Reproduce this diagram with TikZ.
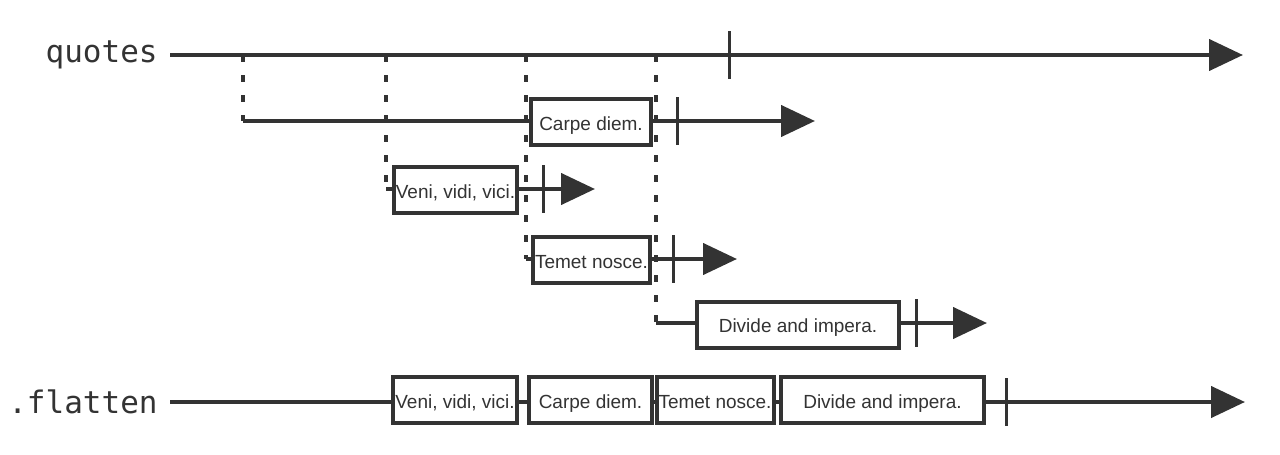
\documentclass[tikz,border=0pt]{standalone}
\usepackage{fontspec}
\setmainfont{Liberation Sans}
\setmonofont{DejaVu Sans Mono}
\usepackage{xcolor}
\usepackage{tikz}
\usetikzlibrary{arrows.meta,positioning}
\definecolor{ink}{HTML}{333333}

\begin{document}
\begin{tikzpicture}[
    x=0.5pt, y=-0.5pt,
    stream/.style={draw=ink, line width=2.2pt, -{Triangle[length=17pt, width=15.5pt]}},
    branch/.style={draw=ink, line width=2pt, dash pattern=on 3.5pt off 6.5pt},
    tickmark/.style={draw=ink, line width=1.5pt},
    boxitem/.style={rectangle, draw=ink, line width=2pt, fill=white, text=ink, minimum height=23pt, inner xsep=1pt, inner ysep=0pt, text height=8pt, text depth=0pt, font=\fontsize{9.5}{11}\selectfont},
    streamname/.style={text=ink, font=\ttfamily\fontsize{15.5}{18}\selectfont, anchor=east, inner sep=0pt}
]
    \useasboundingbox (0,0) rectangle (1280,455);

    \node [streamname] (quotesLbl) at (158,55) {quotes};
    \node [streamname] (flattenLbl) at (158,402) {.flatten};

    \coordinate (qStart) at (170,55);   \coordinate (qEnd) at (1243,55);
    \coordinate (fStart) at (170,402);  \coordinate (fEnd) at (1245,402);
    \coordinate (aTop) at (243,55);     \coordinate (aCorner) at (243,121); \coordinate (aEnd) at (815,121);
    \coordinate (bTop) at (386,55);     \coordinate (bCorner) at (386,189); \coordinate (bEnd) at (595,189);
    \coordinate (cTop) at (526,55);     \coordinate (cCorner) at (526,259); \coordinate (cEnd) at (737,259);
    \coordinate (dTop) at (656,55);     \coordinate (dCorner) at (656,323); \coordinate (dEnd) at (987,323);

    \draw [branch] (aTop) -- (aCorner);
    \draw [branch] (bTop) -- (bCorner);
    \draw [branch] (cTop) -- (cCorner);
    \draw [branch] (dTop) -- (dCorner);

    \draw [stream] (qStart) -- (qEnd);
    \draw [stream] (aCorner) -- (aEnd);
    \draw [stream] (bCorner) -- (bEnd);
    \draw [stream] (cCorner) -- (cEnd);
    \draw [stream] (dCorner) -- (dEnd);
    \draw [stream] (fStart) -- (fEnd);

    \node [boxitem, minimum width=60pt] (carpeA) at (591,122) {Carpe diem.};
    \node [boxitem, minimum width=61.5pt] (veniB) at (455.5,190) {Veni, vidi, vici.};
    \node [boxitem, minimum width=58.5pt] (temetC) at (591.5,260) {Temet nosce.};
    \node [boxitem, minimum width=101pt] (divideD) at (798,324.5) {Divide and impera.};

    \node [boxitem, minimum width=62pt] (veniF) at (455,400) {Veni, vidi, vici.};
    \node [boxitem, minimum width=61.5pt] (carpeF) at (590.5,400) {Carpe diem.};
    \node [boxitem, minimum width=58pt] (temetF) at (715,400) {Temet nosce.};
    \node [boxitem, minimum width=101.5pt] (divideF) at (882.5,400) {Divide and impera.};

    \foreach \tx/\ty in {729/55, 677/121, 543/189, 673/259, 916/323, 1006/402}
        \draw [tickmark] (\tx,\ty-24) -- (\tx,\ty+24);
\end{tikzpicture}
\end{document}
